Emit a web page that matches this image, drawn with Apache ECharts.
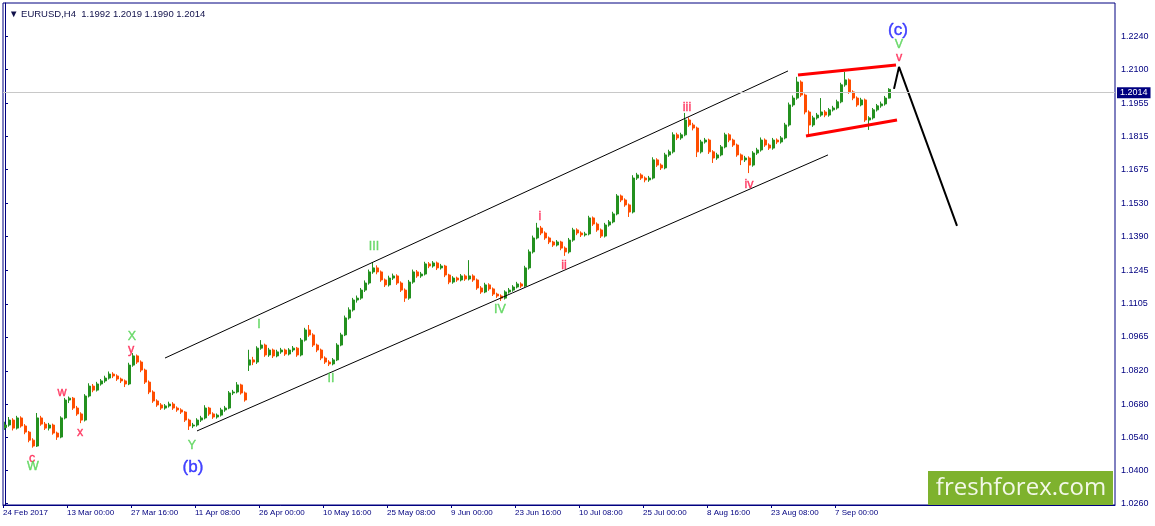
<!DOCTYPE html>
<html>
<head>
<meta charset="utf-8">
<script src="https://cdn.jsdelivr.net/npm/echarts@6/dist/echarts.min.js"></script>
<style>
  html, body { margin: 0; padding: 0; background: #fff; }
  #main { width: 1155px; height: 526px; }
</style>
</head>
<body>
<div id="main"></div>
<script>
// EURUSD H4, one candle per 4 bars
var opens = [
  1.0580,1.0591,1.0612,1.0578,1.0621,1.0587,1.0561,1.0527,1.0502,1.0621,
  1.0595,1.0578,1.0591,1.0557,1.0540,1.0621,1.0697,1.0705,1.0663,1.0638,
  1.0612,1.0714,1.0756,1.0739,1.0765,1.0778,1.0790,1.0807,1.0799,1.0786,
  1.0778,1.0765,1.0845,1.0884,1.0858,1.0824,1.0773,1.0731,1.0693,1.0676,
  1.0663,1.0672,1.0680,1.0663,1.0655,1.0646,1.0612,1.0587,1.0591,1.0612,
  1.0621,1.0663,1.0638,1.0625,1.0633,1.0655,1.0663,1.0727,1.0731,1.0761,
  1.0727,1.0845,1.0867,1.0858,1.0917,1.0930,1.0888,1.0909,1.0884,1.0901,
  1.0909,1.0892,1.0909,1.0917,1.0888,1.0951,1.0994,1.0973,1.0930,1.0909,
  1.0875,1.0858,1.0850,1.0867,1.0930,1.0973,1.1045,1.1079,1.1121,1.1129,
  1.1163,1.1193,1.1240,1.1257,1.1240,1.1206,1.1185,1.1214,1.1223,1.1193,
  1.1163,1.1129,1.1197,1.1240,1.1223,1.1231,1.1274,1.1265,1.1278,1.1257,
  1.1265,1.1227,1.1197,1.1214,1.1206,1.1223,1.1210,1.1223,1.1206,1.1172,
  1.1155,1.1185,1.1168,1.1146,1.1138,1.1129,1.1155,1.1163,1.1176,1.1189,
  1.1180,1.1257,1.1325,1.1384,1.1426,1.1405,1.1384,1.1367,1.1354,1.1367,
  1.1341,1.1325,1.1375,1.1418,1.1405,1.1397,1.1401,1.1469,1.1443,1.1418,
  1.1392,1.1439,1.1452,1.1486,1.1562,1.1545,1.1524,1.1494,1.1638,1.1651,
  1.1638,1.1630,1.1638,1.1715,1.1693,1.1681,1.1736,1.1749,1.1821,1.1808,
  1.1821,1.1884,1.1863,1.1850,1.1749,1.1791,1.1799,1.1749,1.1723,1.1736,
  1.1770,1.1821,1.1799,1.1778,1.1736,1.1715,1.1723,1.1693,1.1744,1.1757,
  1.1799,1.1778,1.1765,1.1799,1.1791,1.1808,1.1863,1.1948,1.1977,1.2045,
  1.1990,1.1918,1.1863,1.1893,1.1905,1.1918,1.1905,1.1927,1.1935,1.1961,
  1.2033,1.2054,1.2003,1.1977,1.1948,1.1969,1.1884,1.1893,1.1927,1.1944,
  1.1952,1.1977
];
var closes = [
  1.0591,1.0612,1.0578,1.0621,1.0587,1.0561,1.0527,1.0502,1.0621,1.0595,
  1.0578,1.0591,1.0557,1.0540,1.0621,1.0697,1.0705,1.0663,1.0638,1.0612,
  1.0714,1.0756,1.0739,1.0765,1.0778,1.0790,1.0807,1.0799,1.0786,1.0778,
  1.0765,1.0845,1.0884,1.0858,1.0824,1.0773,1.0731,1.0693,1.0676,1.0663,
  1.0672,1.0680,1.0663,1.0655,1.0646,1.0612,1.0587,1.0591,1.0612,1.0621,
  1.0663,1.0638,1.0625,1.0633,1.0655,1.0663,1.0727,1.0731,1.0761,1.0727,
  1.0697,1.0867,1.0858,1.0917,1.0930,1.0888,1.0909,1.0884,1.0901,1.0909,
  1.0892,1.0909,1.0917,1.0888,1.0951,1.0994,1.0973,1.0930,1.0909,1.0875,
  1.0858,1.0850,1.0867,1.0930,1.0973,1.1045,1.1079,1.1121,1.1129,1.1163,
  1.1193,1.1240,1.1257,1.1240,1.1206,1.1185,1.1214,1.1223,1.1193,1.1163,
  1.1129,1.1197,1.1240,1.1223,1.1231,1.1274,1.1265,1.1278,1.1257,1.1265,
  1.1227,1.1197,1.1214,1.1206,1.1223,1.1210,1.1223,1.1206,1.1172,1.1155,
  1.1185,1.1168,1.1146,1.1138,1.1129,1.1155,1.1163,1.1176,1.1189,1.1180,
  1.1257,1.1325,1.1384,1.1426,1.1405,1.1384,1.1367,1.1354,1.1367,1.1341,
  1.1325,1.1375,1.1418,1.1405,1.1397,1.1401,1.1469,1.1443,1.1418,1.1392,
  1.1439,1.1452,1.1486,1.1562,1.1545,1.1524,1.1494,1.1638,1.1651,1.1638,
  1.1630,1.1638,1.1715,1.1693,1.1681,1.1736,1.1749,1.1821,1.1808,1.1821,
  1.1884,1.1863,1.1850,1.1749,1.1791,1.1799,1.1749,1.1723,1.1736,1.1770,
  1.1821,1.1799,1.1778,1.1736,1.1715,1.1723,1.1693,1.1744,1.1757,1.1799,
  1.1778,1.1765,1.1799,1.1791,1.1808,1.1863,1.1948,1.1977,1.2045,1.1990,
  1.1918,1.1863,1.1893,1.1905,1.1918,1.1905,1.1927,1.1935,1.1961,1.2033,
  1.2054,1.2003,1.1977,1.1948,1.1969,1.1884,1.1893,1.1927,1.1944,1.1952,
  1.1977,1.2014
];
var lows = [
  1.0570,1.0584,1.0568,1.0572,1.0580,1.0552,1.0518,1.0495,1.0498,1.0588,
  1.0570,1.0568,1.0550,1.0528,1.0535,1.0615,1.0684,1.0655,1.0630,1.0599,
  1.0606,1.0708,1.0730,1.0733,1.0758,1.0770,1.0784,1.0790,1.0778,1.0769,
  1.0752,1.0760,1.0838,1.0850,1.0815,1.0765,1.0722,1.0685,1.0668,1.0655,
  1.0656,1.0665,1.0655,1.0647,1.0638,1.0604,1.0570,1.0578,1.0584,1.0604,
  1.0615,1.0630,1.0617,1.0618,1.0627,1.0647,1.0658,1.0718,1.0725,1.0720,
  1.0690,1.0820,1.0845,1.0850,1.0910,1.0880,1.0880,1.0875,1.0878,1.0893,
  1.0884,1.0886,1.0900,1.0880,1.0882,1.0945,1.0965,1.0922,1.0900,1.0866,
  1.0850,1.0841,1.0844,1.0862,1.0925,1.0968,1.1038,1.1072,1.1110,1.1122,
  1.1155,1.1186,1.1232,1.1230,1.1198,1.1176,1.1178,1.1206,1.1185,1.1155,
  1.1113,1.1122,1.1190,1.1215,1.1215,1.1225,1.1256,1.1258,1.1248,1.1250,
  1.1218,1.1188,1.1190,1.1198,1.1200,1.1202,1.1204,1.1198,1.1164,1.1147,
  1.1150,1.1160,1.1138,1.1130,1.1117,1.1123,1.1148,1.1156,1.1170,1.1172,
  1.1175,1.1250,1.1318,1.1378,1.1396,1.1376,1.1358,1.1346,1.1348,1.1332,
  1.1308,1.1318,1.1368,1.1396,1.1388,1.1390,1.1395,1.1435,1.1410,1.1384,
  1.1386,1.1432,1.1446,1.1480,1.1536,1.1516,1.1473,1.1488,1.1630,1.1630,
  1.1620,1.1622,1.1632,1.1685,1.1672,1.1675,1.1728,1.1742,1.1799,1.1800,
  1.1815,1.1855,1.1840,1.1727,1.1742,1.1784,1.1740,1.1702,1.1715,1.1730,
  1.1764,1.1790,1.1770,1.1728,1.1693,1.1706,1.1659,1.1686,1.1736,1.1750,
  1.1770,1.1757,1.1758,1.1782,1.1784,1.1802,1.1856,1.1940,1.1970,1.1982,
  1.1908,1.1821,1.1855,1.1886,1.1898,1.1896,1.1898,1.1920,1.1928,1.1955,
  1.2025,1.1995,1.1968,1.1940,1.1942,1.1876,1.1842,1.1886,1.1920,1.1936,
  1.1945,1.1975
];
var highs = [
  1.0605,1.0625,1.0620,1.0630,1.0628,1.0595,1.0566,1.0535,1.0642,1.0630,
  1.0604,1.0600,1.0597,1.0563,1.0628,1.0706,1.0712,1.0710,1.0672,1.0645,
  1.0722,1.0768,1.0765,1.0774,1.0786,1.0800,1.0818,1.0815,1.0806,1.0792,
  1.0784,1.0855,1.0896,1.0890,1.0865,1.0830,1.0780,1.0738,1.0700,1.0684,
  1.0680,1.0690,1.0688,1.0670,1.0662,1.0650,1.0618,1.0600,1.0620,1.0630,
  1.0675,1.0668,1.0645,1.0640,1.0664,1.0672,1.0735,1.0740,1.0773,1.0766,
  1.0733,1.0910,1.0880,1.0925,1.0951,1.0936,1.0918,1.0915,1.0910,1.0918,
  1.0915,1.0917,1.0926,1.0922,1.0960,1.1003,1.1015,1.0980,1.0936,1.0915,
  1.0882,1.0866,1.0875,1.0938,1.0982,1.1055,1.1090,1.1130,1.1140,1.1172,
  1.1204,1.1250,1.1282,1.1268,1.1246,1.1212,1.1224,1.1233,1.1230,1.1200,
  1.1170,1.1206,1.1250,1.1248,1.1240,1.1283,1.1282,1.1286,1.1284,1.1274,
  1.1270,1.1232,1.1222,1.1220,1.1231,1.1230,1.1290,1.1230,1.1212,1.1180,
  1.1194,1.1192,1.1174,1.1152,1.1145,1.1162,1.1172,1.1184,1.1198,1.1196,
  1.1266,1.1335,1.1394,1.1448,1.1435,1.1412,1.1390,1.1372,1.1375,1.1372,
  1.1348,1.1384,1.1427,1.1425,1.1412,1.1410,1.1478,1.1475,1.1450,1.1424,
  1.1448,1.1460,1.1495,1.1570,1.1568,1.1552,1.1530,1.1650,1.1660,1.1658,
  1.1645,1.1647,1.1726,1.1722,1.1700,1.1745,1.1758,1.1832,1.1830,1.1830,
  1.1914,1.1895,1.1872,1.1856,1.1800,1.1808,1.1805,1.1756,1.1745,1.1778,
  1.1830,1.1828,1.1805,1.1784,1.1742,1.1732,1.1730,1.1752,1.1766,1.1810,
  1.1806,1.1785,1.1808,1.1806,1.1816,1.1872,1.1958,1.1988,1.2067,1.2052,
  1.1996,1.1925,1.1902,1.1914,1.1977,1.1926,1.1935,1.1944,1.1970,1.2042,
  1.2088,1.2060,1.2010,1.1984,1.1978,1.1975,1.1900,1.1935,1.1952,1.1962,
  1.1986,1.2019
];

var dateLabels = ['24 Feb 2017', '13 Mar 00:00', '27 Mar 16:00', '11 Apr 08:00', '26 Apr 00:00',
  '10 May 16:00', '25 May 08:00', '9 Jun 00:00', '23 Jun 16:00', '10 Jul 08:00',
  '25 Jul 00:00', '8 Aug 16:00', '23 Aug 08:00', '7 Sep 00:00'];
var priceTicks = [1.0260, 1.0400, 1.0540, 1.0680, 1.0820, 1.0965, 1.1105, 1.1245,
  1.1390, 1.1530, 1.1675, 1.1815, 1.1955, 1.2100, 1.2240];
var lastPrice = 1.2014;

// drawn lines, [candle index, price]
var channelTop = [[40, 1.0875], [195.75, 1.2092]];
var channelBottom = [[48, 1.0566], [205.75, 1.1736]];
var flagTop = [[198.25, 1.2075], [222.75, 1.2117]];
var flagBottom = [[200.25, 1.1816], [223, 1.1884]];
var forecast = [[222.25, 1.2016], [223.5, 1.2109], [238, 1.1435]];

// wave marks: text, candle index, price, kind
var waveMarks = [
  ['c', 6.75, 1.0451, 'minor'], ['W', 7, 1.0417, 'major'],
  ['w', 14.25, 1.0727, 'minor'], ['x', 18.75, 1.0561, 'minor'],
  ['X', 31.75, 1.0964, 'major'], ['y', 31.5, 1.0913, 'minor'],
  ['Y', 46.75, 1.0502, 'major'], ['(b)', 47, 1.0413, 'big'],
  ['I', 63.5, 1.1019, 'major'], ['II', 81.5, 1.0786, 'major'],
  ['III', 92.25, 1.1346, 'major'], ['IV', 123.75, 1.1079, 'major'],
  ['i', 133.75, 1.1473, 'minor'], ['ii', 139.75, 1.1269, 'minor'],
  ['iii', 170.5, 1.1935, 'minor'], ['iv', 186, 1.1609, 'minor'],
  ['(c)', 223.25, 1.2266, 'big'], ['V', 223.5, 1.2202, 'major'],
  ['v', 223.5, 1.2147, 'minor']
];

var navy = '#000080';
var markColors = { minor: '#FF1A4A', major: '#4FD24F', big: '#1414FF' };
var markSizes = { minor: 12.5, major: 12.5, big: 17 };

var candles = opens.map(function (o, i) {
  return [i, o, closes[i], lows[i], highs[i]];
});
var tickIdx = dateLabels.map(function (d, k) { return k * 16 - 0.5; });

function lineSeries(data, color, width) {
  return {
    type: 'line', data: data, symbol: 'none', silent: true, z: 4,
    lineStyle: { color: color, width: width }
  };
}

var myChart = echarts.init(document.getElementById('main'));

var option = {
  animation: false,
  backgroundColor: '#ffffff',
  textStyle: { fontFamily: 'Liberation Sans' },
  title: {
    text: '\u25BC EURUSD,H4  1.1992 1.2019 1.1990 1.2014',
    left: 4, top: 4,
    textStyle: { fontSize: 9.5, fontWeight: 'normal', color: '#10104a', fontFamily: 'Liberation Sans' }
  },
  grid: {
    left: 3, right: 40, top: 3, bottom: 21,
    show: true, borderColor: navy, borderWidth: 1
  },
  xAxis: {
    type: 'value', min: -0.5, max: 277.5,
    axisLine: { show: true, lineStyle: { color: navy } },
    axisTick: { show: true, customValues: tickIdx, length: 3, lineStyle: { color: navy } },
    axisLabel: {
      customValues: tickIdx, align: 'left', margin: 4, fontSize: 8, color: navy,
      formatter: function (v) { return dateLabels[Math.round((v + 0.5) / 16)] || ''; }
    },
    splitLine: { show: false }
  },
  yAxis: {
    type: 'value', position: 'right', min: 1.0252, max: 1.2380,
    axisLine: { show: true, lineStyle: { color: navy } },
    axisTick: { show: true, customValues: priceTicks, length: 3, lineStyle: { color: navy } },
    axisLabel: {
      customValues: priceTicks, margin: 6, fontSize: 9, color: navy,
      formatter: function (v) { return v.toFixed(4); }
    },
    splitLine: { show: false }
  },
  series: [
    {
      type: 'candlestick',
      data: candles,
      encode: { x: 0, y: [1, 2, 3, 4] },
      barWidth: 2.5,
      itemStyle: {
        color: '#23901F', color0: '#FF4D00',
        borderColor: '#23901F', borderColor0: '#FF4D00', borderWidth: 1
      },
      markLine: {
        silent: true, symbol: ['none', 'none'],
        lineStyle: { color: '#C8C8C8', type: 'solid', width: 1 },
        label: {
          position: 'end', distance: 2, formatter: lastPrice.toFixed(4),
          backgroundColor: navy, color: '#ffffff', fontSize: 9, padding: [1, 3, 1, 3]
        },
        data: [{ yAxis: lastPrice }]
      }
    },
    lineSeries(channelTop, '#000000', 1),
    lineSeries(channelBottom, '#000000', 1),
    lineSeries(flagTop, '#FF0000', 3),
    lineSeries(flagBottom, '#FF0000', 3),
    lineSeries(forecast, '#000000', 2),
    {
      type: 'scatter', silent: true, z: 5, symbolSize: 0,
      itemStyle: { color: 'rgba(0,0,0,0)' },
      data: waveMarks.map(function (m) {
        var c = markColors[m[3]];
        return {
          name: m[0], value: [m[1], m[2]],
          label: { color: c, fontSize: markSizes[m[3]], textBorderColor: c, textBorderWidth: 0.4 }
        };
      }),
      label: { show: true, position: 'inside', formatter: '{b}', fontFamily: 'Liberation Sans' },
      labelLayout: { hideOverlap: false }
    }
  ],
  graphic: [
    {
      type: 'group', z: 100,
      children: [
        { type: 'rect', shape: { x: 928, y: 471, width: 185, height: 34 }, style: { fill: '#7EB22E' } },
        {
          type: 'text', x: 1021, y: 488,
          style: {
            text: 'freshforex.com', fill: '#F3F8E8', font: '24px "Open Sans"',
            textAlign: 'center', textVerticalAlign: 'middle'
          }
        }
      ]
    }
  ]
};

myChart.setOption(option);
</script>
</body>
</html>
